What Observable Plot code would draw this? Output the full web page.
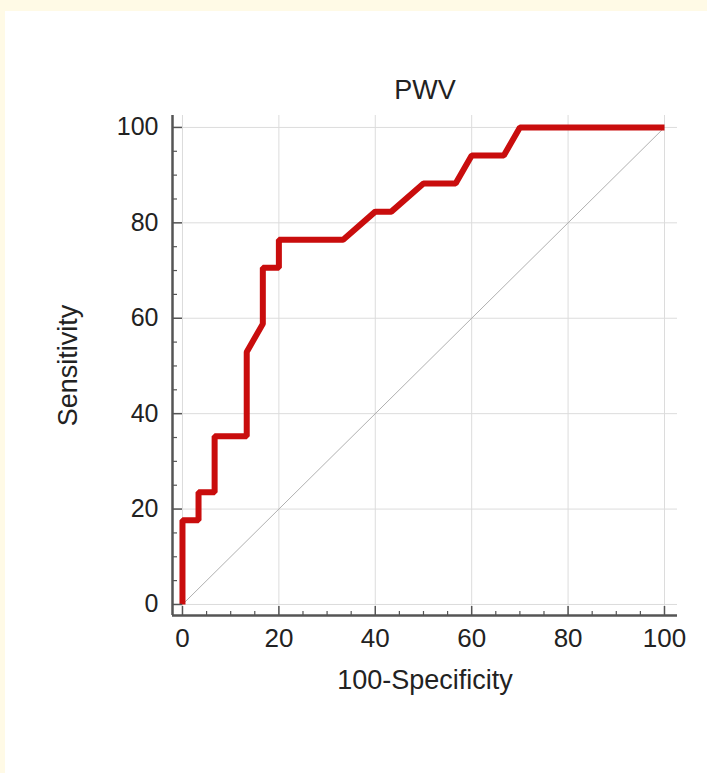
<!DOCTYPE html>
<html>
<head>
<meta charset="utf-8">
<script src="https://cdn.jsdelivr.net/npm/d3@7"></script>
<script src="https://cdn.jsdelivr.net/npm/@observablehq/plot@0.6"></script>
<style>
  html, body { margin: 0; padding: 0; background: #fffae6; width: 707px; height: 773px; overflow: hidden; }
  #card { position: absolute; left: 5px; top: 11px; width: 702px; height: 762px; background: #ffffff; }
</style>
</head>
<body>
<div id="card"></div>
<script>
// ROC curve vertices (100-Specificity, Sensitivity)
const fpr = [0, 0, 3.33, 3.33, 6.67, 6.67, 13.33, 13.33, 16.67, 16.67, 20, 20, 33.33, 40, 43.33, 50, 56.67, 60, 66.67, 70, 100];
const tpr = [0, 17.65, 17.65, 23.53, 23.53, 35.29, 35.29, 52.94, 58.82, 70.59, 70.59, 76.47, 76.47, 82.35, 82.35, 88.24, 88.24, 94.12, 94.12, 100, 100];
const chanceX = [0, 100];
const chanceY = [0, 100];
const majorTicks = [0, 20, 40, 60, 80, 100];
const minorTicks = [5, 10, 15, 25, 30, 35, 45, 50, 55, 65, 70, 75, 85, 90, 95];
const titleText = "PWV";
const xLabel = "100-Specificity";
const yLabel = "Sensitivity";

const roc = fpr.map((x, i) => ({x, y: tpr[i]}));
const chance = chanceX.map((x, i) => ({x, y: chanceY[i]}));

const xDomain = [-2.07, 102.7];
const yDomain = [-2.31, 102.5];
const W = 702, H = 762;
const mL = 167, mR = 30, mT = 104, mB = 158;
const frameW = W - mL - mR, frameH = H - mT - mB;
const axisColor = "#555555";
const textColor = "#222222";

const chart = Plot.plot({
  width: W,
  height: H,
  marginLeft: mL,
  marginRight: mR,
  marginTop: mT,
  marginBottom: mB,
  style: {background: "transparent", fontFamily: "'Liberation Sans', Arial, sans-serif", overflow: "visible"},
  x: {domain: xDomain},
  y: {domain: yDomain},
  marks: [
    Plot.gridX(majorTicks, {stroke: "#dcdcdc", strokeOpacity: 1, strokeWidth: 1}),
    Plot.gridY(majorTicks, {stroke: "#dcdcdc", strokeOpacity: 1, strokeWidth: 1}),
    Plot.line(chance, {x: "x", y: "y", stroke: "#b0b0b0", strokeWidth: 1}),
    Plot.line(roc, {x: "x", y: "y", stroke: "#c90d0d", strokeWidth: 6, strokeLinejoin: "miter", strokeLinecap: "butt"}),
    // inward ticks
    Plot.ruleX(majorTicks, {x: d => d, stroke: axisColor, strokeWidth: 1.5, insetTop: frameH - 9}),
    Plot.ruleX(minorTicks, {x: d => d, stroke: axisColor, strokeWidth: 1.2, insetTop: frameH - 4}),
    Plot.ruleY(majorTicks, {y: d => d, stroke: axisColor, strokeWidth: 1.5, insetRight: frameW - 10}),
    Plot.ruleY(minorTicks, {y: d => d, stroke: axisColor, strokeWidth: 1.2, insetRight: frameW - 5}),
    // axis lines
    Plot.ruleX([xDomain[0]], {stroke: axisColor, strokeWidth: 2.5}),
    Plot.ruleY([yDomain[0]], {stroke: axisColor, strokeWidth: 2.5}),
    // tick labels
    Plot.axisX(majorTicks, {tickSize: 0, tickPadding: 13, fontSize: 26, fill: textColor, label: null}),
    Plot.axisY(majorTicks, {tickSize: 0, tickPadding: 14, fontSize: 25, fill: textColor, label: null}),
    // titles
    Plot.text([titleText], {frameAnchor: "top", lineAnchor: "bottom", dy: -17, fontSize: 27, fill: textColor}),
    Plot.text([xLabel], {frameAnchor: "bottom", lineAnchor: "bottom", dy: 73, fontSize: 27, fill: textColor}),
    Plot.text([yLabel], {frameAnchor: "left", textAnchor: "middle", lineAnchor: "middle", rotate: -90, dx: -104, fontSize: 27, fill: textColor})
  ]
});
document.getElementById("card").appendChild(chart);
</script>
</body>
</html>
